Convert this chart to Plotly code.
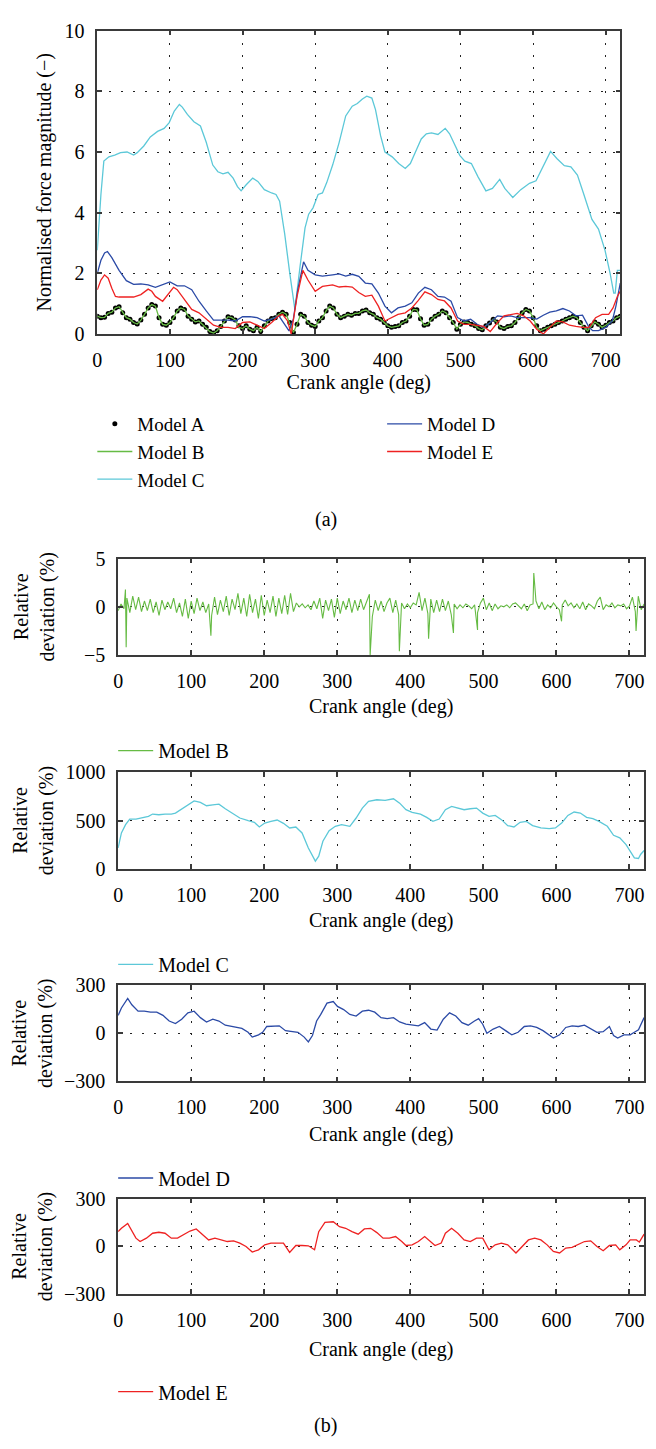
import plotly.graph_objects as go

# ---------------- data: panel (a) ----------------
angle_step_a = 5
model_a = [0.59, 0.54, 0.55, 0.68, 0.72, 0.86, 0.90, 0.70, 0.54, 0.49,
           0.38, 0.33, 0.46, 0.65, 0.86, 0.97, 0.92, 0.54, 0.32, 0.29,
           0.38, 0.54, 0.76, 0.86, 0.81, 0.59, 0.49, 0.40, 0.43, 0.32,
           0.22, 0.08, 0.03, 0.11, 0.25, 0.43, 0.57, 0.54, 0.46, 0.27,
           0.18, 0.27, 0.16, 0.11, 0.22, 0.08, 0.27, 0.43, 0.51, 0.54,
           0.65, 0.72, 0.65, 0.38, 0.05, 0.32, 0.65, 0.59, 0.38, 0.29,
           0.25, 0.43, 0.54, 0.76, 0.92, 0.86, 0.65, 0.54, 0.59, 0.65,
           0.62, 0.68, 0.68, 0.76, 0.79, 0.70, 0.65, 0.54, 0.49, 0.38,
           0.27, 0.22, 0.25, 0.27, 0.38, 0.43, 0.59, 0.81, 0.80, 0.50,
           0.29, 0.32, 0.49, 0.59, 0.65, 0.76, 0.70, 0.54, 0.38, 0.16,
           0.32, 0.40, 0.38, 0.32, 0.27, 0.18, 0.14, 0.27, 0.36, 0.49,
           0.40, 0.22, 0.18, 0.25, 0.27, 0.38, 0.54, 0.70, 0.81, 0.76,
           0.54, 0.27, 0.11, 0.16, 0.22, 0.27, 0.32, 0.38, 0.43, 0.49,
           0.54, 0.59, 0.54, 0.38, 0.22, 0.11, 0.27, 0.40, 0.32, 0.22,
           0.29, 0.38, 0.43, 0.54, 0.59]
model_b = [0.59, 0.54, 0.55, 0.68, 0.72, 0.86, 0.90, 0.70, 0.54, 0.49,
           0.38, 0.33, 0.46, 0.65, 0.86, 0.97, 0.92, 0.54, 0.32, 0.29,
           0.38, 0.54, 0.76, 0.86, 0.81, 0.59, 0.49, 0.40, 0.43, 0.32,
           0.22, 0.08, 0.03, 0.11, 0.25, 0.43, 0.57, 0.54, 0.46, 0.22,
           0.18, 0.27, 0.16, 0.11, 0.22, 0.08, 0.27, 0.43, 0.51, 0.54,
           0.65, 0.72, 0.65, 0.38, 0.05, 0.32, 0.65, 0.59, 0.38, 0.29,
           0.25, 0.43, 0.54, 0.76, 0.92, 0.86, 0.65, 0.54, 0.59, 0.65,
           0.62, 0.68, 0.68, 0.76, 0.79, 0.70, 0.65, 0.54, 0.49, 0.38,
           0.27, 0.22, 0.25, 0.27, 0.38, 0.43, 0.59, 0.81, 0.80, 0.50,
           0.29, 0.32, 0.49, 0.59, 0.65, 0.76, 0.70, 0.54, 0.38, 0.16,
           0.32, 0.40, 0.38, 0.32, 0.27, 0.18, 0.14, 0.27, 0.36, 0.49,
           0.40, 0.22, 0.18, 0.25, 0.27, 0.38, 0.54, 0.70, 0.81, 0.76,
           0.54, 0.22, 0.11, 0.16, 0.22, 0.27, 0.32, 0.38, 0.43, 0.49,
           0.54, 0.59, 0.54, 0.38, 0.22, 0.11, 0.27, 0.40, 0.32, 0.22,
           0.29, 0.38, 0.43, 0.54, 0.59]

c_angle = [0, 3, 5, 9, 16, 24, 32, 41, 50, 55, 64, 73, 83, 92, 99, 106, 113, 117, 124, 133,
           142, 150, 159, 166, 173, 180, 187, 193, 198, 205, 214, 221, 230, 240, 246, 251, 258, 265, 272, 279,
           286, 291, 297, 304, 310, 316, 324, 333, 342, 351, 358, 365, 371, 378, 383, 390, 396, 406, 415, 424,
           431, 440, 446, 453, 460, 469, 479, 485, 492, 499, 506, 515, 524, 535, 544, 554, 561, 572, 583, 595,
           604, 613, 624, 633, 643, 652, 661, 670, 681, 690, 699, 706, 711, 713, 716, 720]
model_c = [2.76, 4.0, 4.6, 5.7, 5.84, 5.9, 5.98, 6.0, 5.9, 5.98, 6.2, 6.5, 6.68, 6.78, 6.97, 7.35, 7.57, 7.48, 7.24, 7.0,
           6.86, 6.32, 5.57, 5.35, 5.28, 5.33, 5.14, 4.86, 4.72, 4.92, 5.14, 5.03, 4.76, 4.65, 4.6, 4.38, 3.3, 2.0, 0.81, 2.2,
           3.5, 3.95, 4.16, 4.6, 4.65, 5.0, 5.57, 6.32, 7.19, 7.51, 7.6, 7.75, 7.84, 7.78, 7.4, 6.54, 6.0, 5.84, 5.62, 5.46,
           5.62, 6.11, 6.43, 6.6, 6.63, 6.58, 6.78, 6.6, 6.22, 5.89, 5.7, 5.62, 5.19, 4.72, 4.8, 5.1, 4.8, 4.5, 4.76, 4.97,
           5.05, 5.51, 6.02, 5.78, 5.55, 5.51, 5.24, 4.59, 3.78, 3.46, 2.76, 2.0, 1.35, 1.35, 2.1, 2.1]

d_angle = [0, 5, 10, 14, 20, 30, 40, 50, 60, 70, 80, 90, 100, 110, 120, 130, 140, 150, 160, 170,
           180, 190, 200, 210, 220, 230, 240, 250, 258, 264, 270, 276, 284, 290, 300, 310, 324, 333, 342, 351,
           360, 369, 378, 387, 396, 405, 414, 424, 433, 442, 451, 460, 469, 478, 487, 496, 505, 514, 523, 532,
           541, 551, 560, 569, 578, 587, 596, 605, 614, 623, 632, 641, 650, 659, 668, 677, 682, 690, 700, 709,
           714, 720]
model_d = [2.0, 2.43, 2.67, 2.72, 2.52, 2.1, 1.76, 1.64, 1.65, 1.62, 1.54, 1.62, 1.72, 1.59, 1.59, 1.46, 1.08, 0.76, 0.46, 0.46,
           0.46, 0.43, 0.57, 0.57, 0.54, 0.43, 0.49, 0.6, 0.32, 0.1, 0.5, 1.46, 2.38, 2.1, 1.95, 1.91, 1.95, 1.98, 1.91, 1.97,
           1.9, 1.68, 1.65, 1.35, 0.92, 0.7, 0.86, 0.92, 1.03, 1.35, 1.54, 1.46, 1.24, 1.22, 1.08, 0.54, 0.43, 0.49, 0.32, 0.22,
           0.38, 0.6, 0.57, 0.6, 0.54, 0.54, 0.54, 0.49, 0.62, 0.72, 0.76, 0.84, 0.76, 0.6, 0.62, 0.22, 0.11, 0.11, 0.22, 0.43,
           0.92, 1.68]

e_angle = [0, 5, 10, 15, 20, 25, 30, 40, 50, 60, 70, 75, 80, 90, 100, 105, 110, 120, 130, 140,
           150, 160, 170, 180, 190, 200, 210, 220, 230, 240, 250, 255, 262, 267, 275, 283, 290, 300, 310, 324,
           333, 342, 351, 360, 369, 378, 387, 396, 405, 414, 424, 433, 442, 451, 460, 469, 478, 487, 496, 505,
           514, 523, 532, 541, 551, 560, 569, 578, 587, 596, 605, 614, 623, 632, 641, 650, 659, 668, 677, 686,
           695, 704, 710, 716, 720]
model_e = [1.46, 1.78, 1.95, 1.84, 1.51, 1.24, 1.22, 1.21, 1.22, 1.3, 1.48, 1.41, 1.24, 1.08, 1.38, 1.54, 1.46, 1.14, 0.81, 0.7,
           0.49, 0.29, 0.22, 0.22, 0.18, 0.38, 0.4, 0.29, 0.18, 0.38, 0.6, 0.65, 0.43, 0.0, 1.24, 2.1, 1.78, 1.41, 1.57, 1.62,
           1.55, 1.57, 1.55, 1.37, 1.24, 1.28, 0.92, 0.43, 0.54, 0.65, 0.7, 0.86, 1.11, 1.39, 1.3, 1.14, 1.09, 0.86, 0.43, 0.32,
           0.32, 0.29, 0.25, 0.08, 0.38, 0.6, 0.65, 0.68, 0.6, 0.43, 0.16, 0.0, 0.22, 0.43, 0.4, 0.29, 0.25, 0.22, 0.22, 0.54,
           0.65, 0.65, 0.86, 1.24, 1.41]

# ---------------- data: panel (b) ----------------
angle_step_bdev = 4
dev_b = [-0.4, 0.3, -0.2, 0.9, -0.6, 1.1, -0.3, 1.0, -0.5, 0.6,
         -0.4, 0.8, -0.6, 0.5, -0.9, 0.7, -0.3, 0.5, -0.2, 0.9,
         -0.6, 0.4, -1.0, 0.8, -1.2, 0.6, -0.7, 0.9, -0.4, 0.5,
         -0.6, 0.3, -0.9, 1.0, -0.8, 0.7, -0.5, 1.1, -0.9, 0.8,
         -0.3, 1.4, -0.7, 0.9, -1.0, 1.3, -0.6, 0.8, -1.2, 1.2,
         -0.9, 0.7, -0.6, 1.1, -1.0, 0.9, -0.7, 1.2, -0.8, 1.4,
         -0.5, 0.4, 0.0, 0.3, -0.1, 0.2, -0.3, 0.6, -0.2, 0.9,
         -1.2, 0.7, -0.4, 0.8, -1.1, 0.9, -0.7, 0.6, -0.3, 0.9,
         -0.6, 0.7, -0.4, 0.8, -0.3, 0.5, 1.3, -1.0, 0.7, -0.4,
         0.6, -0.5, 0.4, 0.9, -0.6, 0.7, -0.8, 0.4, -0.2, 0.3,
         -0.1, 0.4, 0.2, 1.5, -0.4, 0.9, -0.7, 0.8, -0.6, 0.7,
         -0.5, 0.8, -0.4, 0.6, -0.8, 0.3, -0.2, 0.2, -0.1, 0.3,
         0.1, -0.2, 0.2, -0.6, 0.4, 0.9, -0.3, 0.4, -0.4, 0.3,
         -0.2, 0.1, 0.0, 0.2, -0.1, 0.3, 0.4, 0.1, -0.2, 0.3,
         -0.4, 0.2, 0.3, 0.6, -0.2, 0.5, -0.3, 0.2, -0.1, 0.4,
         0.0, -0.3, 0.2, 0.7, 0.1, 0.4, -0.1, 0.3, -0.2, 0.5,
         -0.3, 0.3, 0.1, -0.2, 0.6, 1.0, -0.3, 0.2, 0.0, 0.4,
         -0.1, 0.2, 0.1, 0.3, -0.2, 0.1, 1.0, -0.5, 1.1, -0.3,
         0.3]
spike_angle = [10, 11, 127, 345, 385, 425, 459, 492, 569, 607, 709]
spike_dev = [1.8, -4.2, -3.0, -5.0, -4.6, -3.3, -2.7, -2.4, 3.5, -1.5, -2.5]

dev_c_angle = [0, 4.5, 10.2, 15.9, 24.4, 33, 41.5, 47.2, 55.7, 64.2, 72.8, 78.5, 87, 95.5, 104, 112.6, 121, 129.6, 138, 146.7,
               158, 166.6, 178, 186.5, 193.3, 200.7, 209.2, 217.7, 226.3, 234.8, 243.3, 251.8, 260.4, 266, 270, 274.6, 280.3, 288.8, 297.3, 305.9,
               317.2, 325.8, 334.3, 342.8, 354.2, 365.5, 376.9, 385.4, 394, 402.5, 413.9, 422.4, 430.9, 439.5, 448, 456.5, 465, 473.6, 482, 490.6,
               499.1, 507.7, 516.2, 524.7, 533.3, 541.8, 550.3, 558.8, 567.4, 578.7, 590.1, 598.6, 607.2, 615.7, 624.2, 632.7, 641.3, 649.8, 658.3, 669.7,
               678.2, 686.7, 695.3, 701, 706.7, 712.3, 715.2, 720]
dev_c = [216, 371, 457, 515, 515, 526, 543, 567, 560, 567, 567, 577, 622, 663, 704, 687, 653, 663, 670, 622,
         567, 526, 498, 481, 433, 474, 491, 505, 471, 423, 433, 371, 216, 131, 79, 131, 285, 395, 440, 457,
         440, 526, 629, 698, 715, 708, 725, 680, 612, 584, 567, 533, 491, 515, 612, 646, 629, 612, 622, 629,
         577, 543, 553, 509, 447, 433, 481, 491, 447, 423, 416, 423, 474, 553, 588, 577, 533, 519, 491, 440,
         347, 320, 251, 182, 113, 107, 148, 189]

dev_d_angle = [0, 4.5, 13.1, 18.8, 27.3, 35.8, 44.3, 52.9, 61.4, 69.9, 78.5, 87, 95.5, 104, 112.6, 121, 129.6, 138, 146.7, 158,
               169.4, 177.9, 183.6, 192.2, 197.8, 203.5, 212, 220.6, 229.1, 237.6, 246.2, 254.7, 260.4, 266, 271.7, 277.4, 285.9, 294.5, 300.2, 308.7,
               317.2, 325.8, 334.3, 342.8, 351.3, 359.9, 368.4, 376.9, 385.4, 394, 402.5, 411, 419.6, 428.1, 436.6, 445.1, 453.7, 462.2, 470.7, 479.2,
               487.8, 493.5, 499.1, 504.8, 513.4, 521.9, 530.4, 538.9, 547.5, 556, 564.5, 573, 581.6, 590.1, 595.8, 604.3, 612.8, 621.4, 629.9, 638.4,
               646.9, 655.5, 664, 672.5, 678.2, 683.9, 692.4, 701, 706.7, 712.3, 720]
dev_d = [111, 157, 217, 177, 137, 137, 131, 131, 111, 76, 60, 87, 127, 137, 97, 70, 87, 76, 50, 40,
         30, 6, -24, -10, 6, 42, 42, 46, 16, 10, 6, -24, -54, -14, 76, 117, 187, 197, 167, 147,
         117, 107, 137, 143, 131, 97, 91, 97, 70, 56, 50, 46, 66, 26, 20, 87, 127, 107, 66, 50,
         76, 91, 56, 0, 26, 42, 16, -10, 6, 42, 46, 36, 16, -14, -30, -10, 36, 46, 42, 50,
         30, 6, 10, 42, -14, -30, -10, -10, 6, 22, 97]

dev_e_angle = [0, 4.5, 13.1, 18.8, 24.4, 30.1, 38.7, 47.2, 55.7, 64.2, 72.8, 81.3, 89.8, 98.4, 106.9, 115.4, 123.9, 132.5, 141, 149.5,
               158, 166.6, 175.1, 183.6, 192.2, 200.7, 209.2, 217.7, 226.3, 234.8, 243.3, 251.8, 260.4, 268.9, 274.6, 283.1, 294.5, 303, 311.5, 320.1,
               328.6, 337.1, 345.7, 354.2, 362.7, 371.2, 379.8, 388.3, 394, 402.5, 411, 419.6, 428.1, 433.8, 442.3, 448, 456.5, 465, 473.6, 482.1,
               490.6, 499.1, 507.7, 516.2, 524.7, 533.3, 544.6, 553.2, 561.7, 570.2, 578.7, 587.3, 595.8, 604.3, 612.8, 621.4, 629.9, 638.4, 646.9, 655.5,
               664, 672.5, 681.1, 686.7, 695.3, 701, 709.5, 713.5, 720]
dev_e = [93, 114, 145, 93, 52, 31, 52, 83, 89, 83, 52, 52, 72, 97, 110, 77, 41, 52, 41, 31,
         35, 21, 0, -35, -21, 10, 21, 21, 21, -37, 6, 6, 4, -21, 93, 151, 155, 124, 114, 93,
         77, 110, 114, 87, 52, 52, 62, 31, 6, 10, 31, 62, 31, 6, 21, 83, 114, 83, 41, 31,
         52, 52, -21, 10, 21, 10, -41, 0, 41, 52, 41, 10, -31, -41, -10, -6, 14, 31, 35, 0,
         -27, 6, 10, -21, 10, 41, 41, 27, 77]

x_ticks = [0, 100, 200, 300, 400, 500, 600, 700]

# ---------------- styling ----------------
W, H = 656, 1449
FONT = "Liberation Serif"
GREEN = "#66BB44"
CYAN = "#5CC8D8"
BLUE = "#2B4AA6"
RED = "#EE2222"
LW = 1.3


def fx(p):
    return p / W


def fy(p):
    return 1 - p / H


angle_a = [i * angle_step_a for i in range(len(model_a))]
b_pairs = sorted([(i * angle_step_bdev, v) for i, v in enumerate(dev_b)] + list(zip(spike_angle, spike_dev)))
dev_b_angle = [p[0] for p in b_pairs]
dev_b_all = [p[1] for p in b_pairs]

fig = go.Figure()

# panel (a)
fig.add_trace(go.Scatter(x=angle_a, y=model_a, mode="markers", name="Model A",
                         marker=dict(color="black", size=5), legend="legend", xaxis="x", yaxis="y"))
fig.add_trace(go.Scatter(x=angle_a, y=model_b, mode="lines", name="Model B",
                         line=dict(color=GREEN, width=LW), legend="legend", xaxis="x", yaxis="y"))
fig.add_trace(go.Scatter(x=c_angle, y=model_c, mode="lines", name="Model C",
                         line=dict(color=CYAN, width=LW), legend="legend", xaxis="x", yaxis="y"))
fig.add_trace(go.Scatter(x=d_angle, y=model_d, mode="lines", name="Model D",
                         line=dict(color=BLUE, width=LW), legend="legend6", xaxis="x", yaxis="y"))
fig.add_trace(go.Scatter(x=e_angle, y=model_e, mode="lines", name="Model E",
                         line=dict(color=RED, width=LW), legend="legend6", xaxis="x", yaxis="y"))

# panel (b)
fig.add_trace(go.Scatter(x=dev_b_angle, y=dev_b_all, mode="lines", name="Model B",
                         line=dict(color=GREEN, width=1.1), legend="legend2", xaxis="x2", yaxis="y2"))
fig.add_trace(go.Scatter(x=dev_c_angle, y=dev_c, mode="lines", name="Model C",
                         line=dict(color=CYAN, width=LW), legend="legend3", xaxis="x3", yaxis="y3"))
fig.add_trace(go.Scatter(x=dev_d_angle, y=dev_d, mode="lines", name="Model D",
                         line=dict(color=BLUE, width=LW), legend="legend4", xaxis="x4", yaxis="y4"))
fig.add_trace(go.Scatter(x=dev_e_angle, y=dev_e, mode="lines", name="Model E",
                         line=dict(color=RED, width=LW), legend="legend5", xaxis="x5", yaxis="y5"))

axis_common = dict(showline=True, linecolor="#3a3a3a", linewidth=1.5, mirror="ticks",
                   ticks="inside", ticklen=5, tickwidth=1.5, tickcolor="#3a3a3a",
                   showgrid=True, gridcolor="#222222", gridwidth=1, griddash="2px,10px",
                   zeroline=False, tickfont=dict(family=FONT, size=20, color="black"))
title_font = dict(family=FONT, size=20, color="black")


def xax(domain, anchor, standoff=8):
    return dict(axis_common, domain=domain, anchor=anchor, range=[0, 720],
                tickvals=x_ticks, ticklabelstandoff=7,
                title=dict(text="Crank angle (deg)", font=title_font, standoff=standoff))


def yax(domain, anchor, rng, tickvals, title, standoff):
    return dict(axis_common, domain=domain, anchor=anchor, range=rng, tickvals=tickvals,
                ticklabelstandoff=7,
                title=dict(text=title, font=title_font, standoff=standoff))


xa = [fx(93), fx(620)]
xb = [fx(114), fx(644)]
dev_title = "Relative<br>deviation (%)"

legend_common = dict(font=dict(family=FONT, size=20, color="black"), bgcolor="rgba(0,0,0,0)",
                     itemwidth=35, xanchor="left", orientation="v", tracegroupgap=0)

fig.update_layout(
    width=W, height=H, autosize=False,
    margin=dict(l=0, r=0, t=0, b=0),
    paper_bgcolor="white", plot_bgcolor="white",
    font=dict(family=FONT, size=20, color="black"),
    xaxis=xax(xa, "y", 5),
    yaxis=yax([fy(328), fy(20)], "x", [0, 10], [0, 2, 4, 6, 8, 10], "Normalised force magnitude (\u2212)", 8),
    xaxis2=xax(xb, "y2"),
    yaxis2=yax([fy(654), fy(556)], "x2", [-5, 5], [-5, 0, 5], dev_title, 24),
    xaxis3=xax(xb, "y3"),
    yaxis3=yax([fy(871), fy(773)], "x3", [0, 1000], [0, 500, 1000], dev_title, 6),
    xaxis4=xax(xb, "y4", 10),
    yaxis4=yax([fy(1087), fy(989)], "x4", [-300, 300], [-300, 0, 300], dev_title, 6),
    xaxis5=xax(xb, "y5", 12),
    yaxis5=yax([fy(1303), fy(1206)], "x5", [-300, 300], [-300, 0, 300], dev_title, 6),
    legend=dict(legend_common, x=fx(88), y=fy(400), yanchor="top",
                font=dict(family=FONT, size=19, color="black")),
    legend6=dict(legend_common, x=fx(380), y=fy(400), yanchor="top",
                 font=dict(family=FONT, size=19, color="black")),
    legend2=dict(legend_common, x=fx(109), y=fy(751), yanchor="middle"),
    legend3=dict(legend_common, x=fx(109), y=fy(968), yanchor="middle"),
    legend4=dict(legend_common, x=fx(109), y=fy(1185), yanchor="middle"),
    legend5=dict(legend_common, x=fx(109), y=fy(1402), yanchor="middle"),
    annotations=[
        dict(text="(a)", x=fx(323), y=fy(516), xref="paper", yref="paper", showarrow=False,
             xanchor="center", yanchor="middle", font=title_font),
        dict(text="(b)", x=fx(323), y=fy(1436), xref="paper", yref="paper", showarrow=False,
             xanchor="center", yanchor="middle", font=title_font),
    ],
)

fig.write_html("out.html", config={"displayModeBar": False},
               post_script="document.body.style.margin='0';")
